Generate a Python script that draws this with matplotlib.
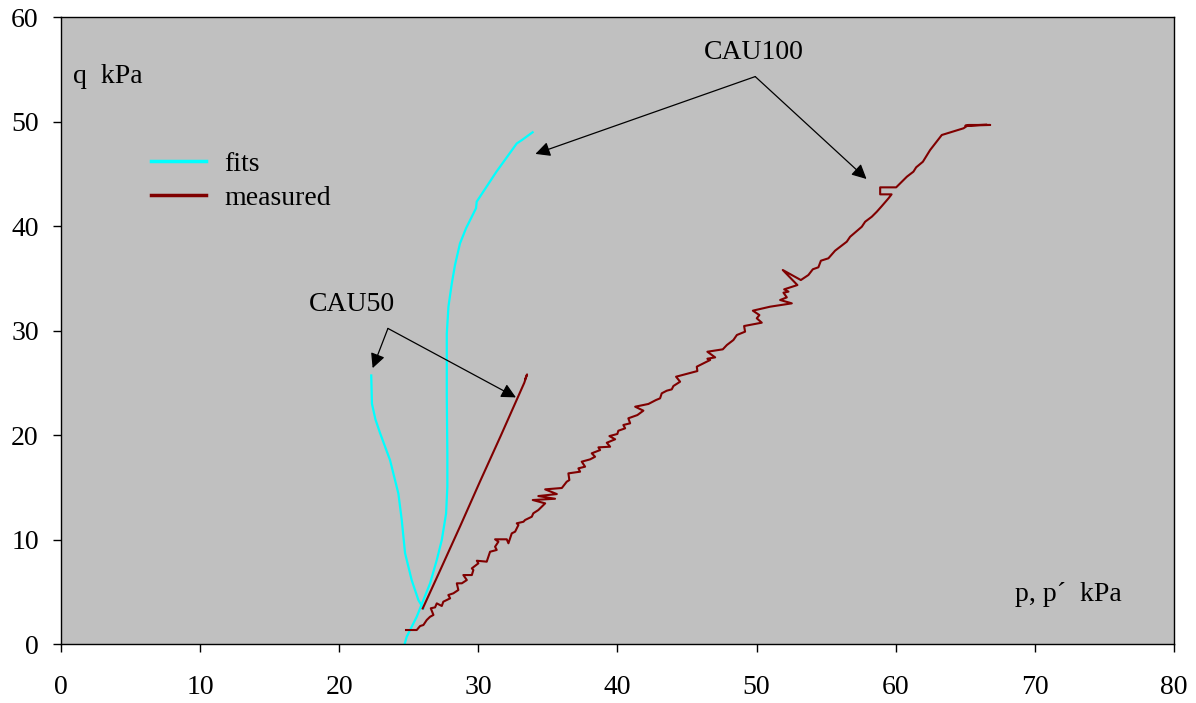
import matplotlib
matplotlib.use("Agg")
import matplotlib.pyplot as plt

plt.rcParams["font.family"] = ["Liberation Serif", "DejaVu Serif"]

# CAU100 fitted stress path (p', q)
fit100_p = [24.7, 24.85, 25.57, 26.05, 26.53, 27.01, 27.37, 27.68, 27.77, 27.77,
            27.73, 27.73, 27.85, 28.09, 28.32, 28.68, 29.12, 29.83, 29.88, 31.3,
            32.76, 33.1, 33.9]
fit100_q = [0.0, 0.7, 2.61, 4.21, 5.81, 8.04, 9.95, 12.5, 15.05, 18.2,
            23.7, 29.7, 32.3, 34.5, 36.27, 38.34, 39.8, 41.7, 42.33, 45.2,
            47.9, 48.2, 48.97]

# CAU50 fitted stress path
fit50_p = [22.3, 22.35, 22.6, 22.93, 23.65, 24.25, 24.49, 24.73, 25.21, 25.69, 26.05]
fit50_q = [25.7, 23.0, 21.5, 20.2, 17.6, 14.4, 11.9, 8.7, 6.1, 4.2, 3.4]

# CAU50 measured stress path
meas50_p = [26.0, 27.2, 28.7, 30.1, 31.6, 32.6, 33.3, 33.5, 33.38]
meas50_q = [3.4, 6.9, 11.3, 15.5, 19.9, 22.9, 25.0, 25.8, 25.4]

# CAU100 measured stress path
meas100_p = [24.80, 25.57, 25.81, 26.05, 26.29, 26.53, 26.77, 26.58, 26.89, 27.01,
             27.37, 27.48, 27.97, 27.84, 28.20, 28.56, 28.45, 28.81, 29.17, 28.92,
             29.53, 29.64, 29.53, 30.00, 29.89, 30.60, 30.72, 30.84, 31.32, 31.20,
             31.44, 31.20, 32.04, 32.16, 32.40, 32.64, 32.76, 32.88, 32.76, 33.24,
             33.36, 33.84, 33.95, 34.31, 34.80, 33.91, 35.51, 34.31, 35.64, 34.80,
             36.00, 36.11, 36.35, 36.54, 36.47, 37.31, 37.19, 37.67, 37.43, 38.03,
             38.39, 38.15, 38.75, 38.63, 39.47, 39.23, 39.83, 39.42, 39.99, 40.06,
             40.55, 40.42, 40.91, 40.78, 41.43, 41.86, 41.27, 42.22, 42.77, 43.06,
             43.18, 43.54, 43.90, 44.02, 44.50, 44.21, 45.74, 45.70, 46.18, 46.66,
             46.46, 47.02, 46.46, 47.57, 47.86, 48.33, 48.58, 49.17, 49.10, 50.37,
             50.01, 50.20, 49.73, 50.97, 52.53, 51.69, 52.17, 51.93, 52.29, 51.98,
             52.93, 51.88, 53.18, 53.72, 54.04, 54.44, 54.62, 55.16, 55.64, 56.48,
             56.72, 57.56, 57.80, 58.28, 58.64, 59.00, 59.48, 59.70, 58.88, 58.88,
             60.03, 60.80, 61.27, 61.47, 61.95, 62.47, 63.31, 64.87, 65.23, 66.79,
             65.00, 66.50]
meas100_q = [1.34, 1.34, 1.72, 1.82, 2.30, 2.61, 2.78, 3.42, 3.51, 3.89,
             3.64, 4.05, 4.37, 4.69, 4.85, 5.17, 5.81, 5.81, 6.12, 6.60,
             6.60, 7.08, 7.24, 7.72, 7.97, 7.88, 8.35, 8.83, 9.00, 9.31,
             9.79, 10.02, 10.02, 9.64, 10.59, 10.75, 11.07, 11.39, 11.55, 11.70,
             11.87, 12.18, 12.51, 12.82, 13.46, 13.78, 13.90, 14.16, 14.35, 14.80,
             14.93, 15.12, 15.53, 15.69, 16.33, 16.49, 16.81, 16.97, 17.45, 17.67,
             17.92, 18.25, 18.56, 18.82, 18.88, 19.26, 19.59, 19.90, 20.10, 20.41,
             20.64, 20.96, 21.12, 21.60, 21.91, 22.33, 22.71, 22.97, 23.35, 23.51,
             23.99, 24.24, 24.37, 24.69, 25.10, 25.58, 26.12, 26.54, 26.86, 27.18,
             27.30, 27.43, 27.97, 28.20, 28.61, 29.09, 29.57, 29.89, 30.43, 30.75,
             31.17, 31.48, 31.90, 32.28, 32.60, 32.92, 33.17, 33.62, 33.72, 33.94,
             34.35, 35.79, 34.83, 35.31, 35.86, 36.05, 36.68, 36.91, 37.64, 38.50,
             38.97, 39.93, 40.41, 40.89, 41.37, 41.91, 42.65, 43.03, 43.03, 43.70,
             43.70, 44.72, 45.20, 45.62, 46.15, 47.27, 48.71, 49.35, 49.67, 49.67,
             49.60, 49.70]

x_ticks = [0, 10, 20, 30, 40, 50, 60, 70, 80]
y_ticks = [0, 10, 20, 30, 40, 50, 60]

FS = 20
CYAN = "#00FFFF"
DARKRED = "#800000"

fig = plt.figure(figsize=(11.96, 7.03), dpi=100)
ax = fig.add_axes([0.051, 0.0839, 0.9306, 0.8919])
ax.set_facecolor("#C0C0C0")

ax.plot(fit100_p, fit100_q, color=CYAN, lw=1.6, label="fits")
ax.plot(meas100_p, meas100_q, color=DARKRED, lw=1.5, label="measured")
ax.plot(fit50_p, fit50_q, color=CYAN, lw=1.6)
ax.plot(meas50_p, meas50_q, color=DARKRED, lw=1.5)

ax.set_xlim(0, 80)
ax.set_ylim(0, 60)
ax.set_xticks(x_ticks)
ax.set_yticks(y_ticks)
ax.tick_params(axis="x", direction="out", length=6, width=1, pad=16, labelsize=FS)
ax.tick_params(axis="y", direction="out", length=6, width=1, pad=10, labelsize=FS)
for s in ax.spines.values():
    s.set_linewidth(1.0)
    s.set_color("black")

ax.text(0.86, 54.35, "q  kPa", fontsize=FS, va="center", ha="left")
ax.text(68.6, 4.7, "p, p\u00b4  kPa", fontsize=FS, va="center", ha="left")

leg = ax.legend(loc="upper left", bbox_to_anchor=(0.058, 0.826), frameon=False,
                fontsize=FS, handlelength=2.0, handletextpad=0.65, labelspacing=0.33)
for h in leg.get_lines():
    h.set_linewidth(2.5)

arrow = dict(arrowstyle="-|>", color="black", lw=0.9, mutation_scale=22,
             shrinkA=0, shrinkB=0)

# CAU100 annotation
ax.text(49.8, 56.65, "CAU100", fontsize=FS, ha="center", va="center")
ax.annotate("", xy=(34.1, 46.9), xytext=(49.9, 54.3), arrowprops=arrow)
ax.annotate("", xy=(57.9, 44.5), xytext=(49.9, 54.3), arrowprops=arrow)

# CAU50 annotation
ax.text(20.9, 32.5, "CAU50", fontsize=FS, ha="center", va="center")
ax.annotate("", xy=(22.4, 26.4), xytext=(23.5, 30.2), arrowprops=arrow)
ax.annotate("", xy=(32.7, 23.6), xytext=(23.5, 30.2), arrowprops=arrow)

fig.savefig("out.png", dpi=100)
